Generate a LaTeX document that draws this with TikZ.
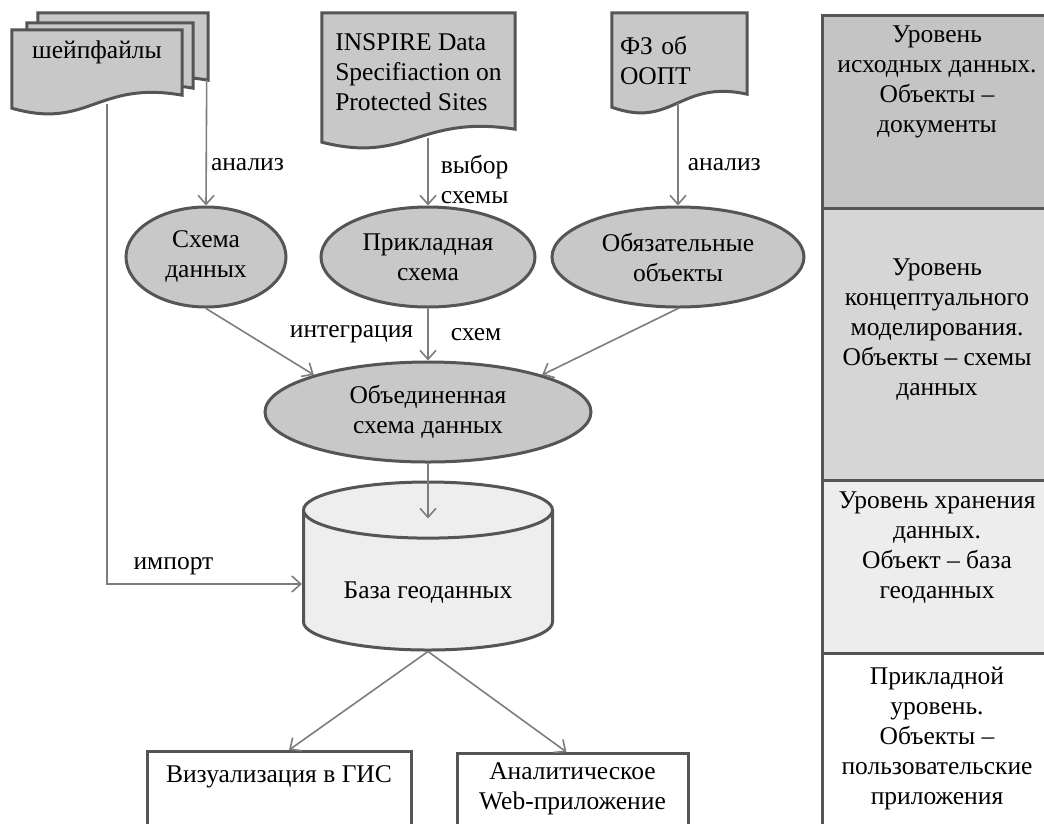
\documentclass[tikz,border=0pt]{standalone}
\usepackage{fontspec}
\setmainfont{Liberation Serif}
\usetikzlibrary{positioning, arrows.meta, shapes.geometric, calc, backgrounds}
\definecolor{linegray}{RGB}{85,85,85}
\definecolor{arrowgray}{RGB}{125,125,125}
\definecolor{shapegray}{RGB}{200,200,200}
\definecolor{levelA}{RGB}{196,196,196}
\definecolor{levelB}{RGB}{214,214,214}
\definecolor{levelC}{RGB}{237,237,237}
\definecolor{dbgray}{RGB}{238,238,238}
\newcommand\dgfont{\fontsize{25.5}{30}\selectfont}
\newcommand\docbody[1]{\filldraw[docline] (#1.north west) -- (#1.north east) -- ($(#1.south east)+(0,-13)$) .. controls ($(#1.south west)!0.5!(#1.south east)+(0,-28)$) and ($(#1.south west)!0.45!(#1.south east)+(0,22)$) .. (#1.south west) -- cycle;}

\begin{document}
\begin{tikzpicture}[x=1pt,y=-1pt,docnode/.style={rectangle,inner sep=0pt,font=\dgfont},docline/.style={draw=linegray,line width=3pt,fill=shapegray,line join=miter},oval/.style={ellipse,draw=linegray,line width=3pt,fill=shapegray,align=center,inner sep=0pt,minimum height=100pt,font=\dgfont},dbase/.style={cylinder,shape border rotate=90,aspect=0.32,draw=linegray,line width=3pt,fill=dbgray,minimum width=249pt,minimum height=168pt,font=\dgfont},appbox/.style={rectangle,draw=linegray,line width=3pt,fill=white,anchor=north,align=center,inner ysep=9pt,text depth=70pt,font=\dgfont},levelbox/.style={rectangle,draw=linegray,line width=3pt,minimum width=230pt},leveltext/.style={align=center,inner sep=0pt,font=\dgfont},flow/.style={draw=arrowgray,line width=1.6pt,-{Straight Barb[length=9pt,width=16pt]}},lbl/.style={inner sep=0pt,font=\dgfont}]
\useasboundingbox (0,0) rectangle (1044,823);
\clip (0,0) rectangle (1044,823);
\node[docnode, minimum width=170pt, minimum height=80pt] (shpC) at (123,53) {};
\node[docnode, minimum width=166pt, minimum height=78pt] (shpB) at (110,62) {};
\node[docnode, minimum width=170pt, minimum height=78pt, text depth=38pt] (shpA) at (97,69) {шейпфайлы};
\node[docnode, minimum width=193pt, minimum height=129pt, align=left, text depth=10pt] (insp) at (418.5,77.5) {INSPIRE Data\\Specifiaction on\\Protected Sites};
\node[docnode, minimum width=135pt, minimum height=94pt, text width=119pt, align=left] (fz) at (679.5,60) {ФЗ об\\ООПТ};
\begin{scope}[on background layer]
\docbody{shpC}\docbody{shpB}\docbody{shpA}\docbody{insp}\docbody{fz}
\end{scope}
\node[oval, minimum width=160pt] (sch) at (206,257) {Схема\\данных};
\node[oval, minimum width=214pt] (appl) at (428,257) {Прикладная\\схема};
\node[oval, minimum width=252pt] (oblig) at (678,257) {Обязательные\\объекты};
\node[oval, minimum width=326pt] (merged) at (428,412) {Объединенная\\схема данных};
\node[dbase, text height=33pt] (gdb) at (428,584) {База геоданных};
\node[appbox, minimum width=264pt, inner ysep=14pt] (vis) at (279,750) {Визуализация в ГИС};
\node[appbox, minimum width=231pt] (web) at (572.5,752) {Аналитическое\\Web-приложение};
\node[levelbox, fill=levelA, minimum height=193pt] (lvlsrc) at (937,111.5) {};
\node[levelbox, fill=levelB, minimum height=272pt] (lvlconc) at (937,344) {};
\node[levelbox, fill=levelC, minimum height=173pt] (lvlstore) at (937,566.5) {};
\node[levelbox, fill=white, minimum height=207pt] (lvlapp) at (937,756.5) {};
\node[leveltext, below=12pt of lvlsrc.north] {Уровень\\исходных данных.\\Объекты –\\документы};
\node[leveltext, below=52pt of lvlconc.north] {Уровень\\концептуального\\моделирования.\\Объекты – схемы\\данных};
\node[leveltext, below=13pt of lvlstore.north] {Уровень хранения\\данных.\\Объект –  база\\геоданных};
\node[leveltext, below=15pt of lvlapp.north] {Прикладной\\уровень.\\Объекты –\\пользовательские\\приложения};
\draw[flow] ($(shpC.south east)+(-1.5,-13)$) -- (sch.north) node[lbl, right=4pt, pos=0.67] {анализ};
\draw[flow] ($(appl.north |- insp.south)+(0,-4)$) -- (appl.north) node[lbl, right=12pt, align=left, pos=0.62] {выбор\\схемы};
\draw[flow] ($(oblig.north |- fz.south)+(0,-4)$) -- (oblig.north) node[lbl, right=9pt, pos=0.6] {анализ};
\draw[flow] ($(shpA.south west)!0.56!(shpA.south east)+(0,-4)$) |- (gdb.west) node[lbl, above=8pt, pos=0.67] {импорт};
\draw[flow] (sch.south) -- (merged.162);
\draw[flow] (appl) -- (merged) node[lbl, left=14pt, midway] {интеграция} node[lbl, right=22pt, midway] {схем};
\draw[flow] (oblig.south) -- (merged.18);
\draw[flow] (merged) -- ($(gdb.north)+(0,38)$);
\draw[flow] (gdb.south) -- ([xshift=10pt]vis.north);
\draw[flow] (gdb.south) -- ([xshift=-6pt]web.north);
\end{tikzpicture}
\end{document}
